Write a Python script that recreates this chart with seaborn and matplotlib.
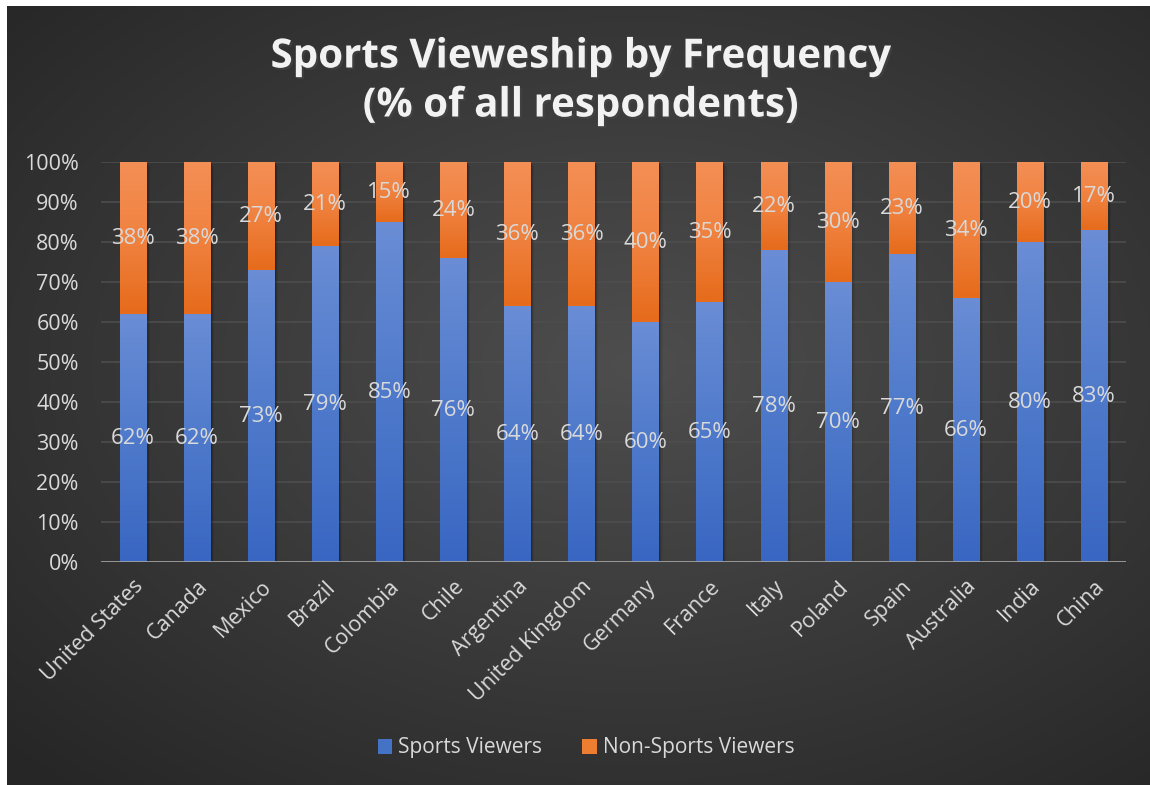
import numpy as np
import pandas as pd
import matplotlib
matplotlib.use("Agg")
import matplotlib.pyplot as plt
import seaborn as sns
from matplotlib.patches import Patch
from matplotlib.colors import LinearSegmentedColormap, to_rgb
import matplotlib.patheffects as pe

countries = ["United States", "Canada", "Mexico", "Brazil", "Colombia", "Chile",
             "Argentina", "United Kingdom", "Germany", "France", "Italy", "Poland",
             "Spain", "Australia", "India", "China"]
sports_viewers = [62, 62, 73, 79, 85, 76, 64, 64, 60, 65, 78, 70, 77, 66, 80, 83]
non_sports_viewers = [38, 38, 27, 21, 15, 24, 36, 36, 40, 35, 22, 30, 23, 34, 20, 17]
y_ticks = [0, 10, 20, 30, 40, 50, 60, 70, 80, 90, 100]
series_names = ["Sports Viewers", "Non-Sports Viewers"]

df = pd.DataFrame({
    "country": countries,
    "sports": sports_viewers,
    "non_sports": non_sports_viewers,
})
df["total"] = df["sports"] + df["non_sports"]

sns.set_theme(style="dark")
plt.rcParams["font.family"] = ["Open Sans", "DejaVu Sans"]

W, H = 1150, 785
fig = plt.figure(figsize=(W / 100, H / 100), dpi=100, facecolor="white")

# background with radial gradient (extends past right/bottom edges, clipped)
bg = fig.add_axes([7 / W, -0.02, 1.05 - 7 / W, 1.02 - 6 / H])
bg.set_axis_off()
yy, xx = np.mgrid[0:300, 0:400]
cx, cy = 400 * 0.52, 300 * 0.45
d = np.sqrt(((xx - cx) / 400) ** 2 + ((yy - cy) / 300) ** 2) / 0.72
d = np.clip(d, 0, 1)
c_in = np.array(to_rgb("#4e4e4e"))
c_out = np.array(to_rgb("#262626"))
img = c_in[None, None, :] * (1 - d[..., None]) + c_out[None, None, :] * d[..., None]
bg.imshow(img, aspect="auto", extent=(0, 1, 0, 1), origin="upper")
bg.set_xlim(0, 1)
bg.set_ylim(0, 1)

ax = fig.add_axes([101 / W, 1 - 562 / H, 1025 / W, 400 / H])
ax.patch.set_alpha(0)

orange = "#ED7D31"
blue = "#4472C4"
sns.barplot(data=df, x="country", y="total", color=orange, width=0.41,
            saturation=1, ax=ax, zorder=2, edgecolor="none", linewidth=0)
sns.barplot(data=df, x="country", y="sports", color=blue, width=0.41,
            saturation=1, ax=ax, zorder=3, edgecolor="none", linewidth=0)

n = len(countries)
orange_patches = ax.patches[:n]
blue_patches = ax.patches[n:]

grad_o = LinearSegmentedColormap.from_list("o", ["#e66b1b", "#f08240", "#f48f55"])
grad_b = LinearSegmentedColormap.from_list("b", ["#3966c2", "#4f7acb", "#6a8dd5"])
gvals = np.linspace(0, 1, 256).reshape(-1, 1)

for po, pb in zip(orange_patches, blue_patches):
    x0, w = pb.get_x(), pb.get_width()
    hb = pb.get_height()
    ho = po.get_height()
    # soft shadow
    for k, a in enumerate([0.18, 0.12, 0.07]):
        dx = 0.02 + k * 0.02
        ax.bar(x0 + w / 2 + dx, ho, width=w, bottom=-0.3 - k * 0.3,
               color="black", alpha=a, zorder=1.5, linewidth=0)
    ax.imshow(gvals, cmap=grad_b, aspect="auto", origin="lower",
              extent=(x0, x0 + w, 0, hb), zorder=3.5, interpolation="bilinear")
    ax.imshow(gvals, cmap=grad_o, aspect="auto", origin="lower",
              extent=(x0, x0 + w, hb, ho), zorder=3.5, interpolation="bilinear")
    ax.text(x0 + w / 2, hb / 2, f"{int(hb)}%", ha="center", va="center",
            color="#d9d9d9", fontsize=16, zorder=5)
    ax.text(x0 + w / 2, (hb + ho) / 2, f"{int(ho - hb)}%", ha="center", va="center",
            color="#d9d9d9", fontsize=16, zorder=5)

ax.set_xlim(-0.5, n - 0.5)
ax.set_ylim(0, 100)
ax.set_yticks(y_ticks)
ax.set_yticklabels([f"{t}%" for t in y_ticks])
ax.grid(False)
for t in y_ticks[1:]:
    ax.axhline(t, color="#4d4d4d", linewidth=1.2, zorder=1)
ax.axhline(0, color="#a0a0a0", linewidth=2, zorder=4)
for s in ax.spines.values():
    s.set_visible(False)
ax.set_xlabel("")
ax.set_ylabel("")
ax.tick_params(axis="y", colors="#d9d9d9", labelsize=15.5, length=0, pad=16)
ax.tick_params(axis="x", colors="#d9d9d9", labelsize=15.5, length=0, pad=10)
ax.set_xticks(range(n))
ax.set_xticklabels(countries, rotation=45, ha="right", rotation_mode="anchor")

fig.text(580 / W, 1 - 57 / H, "Sports Vieweship by Frequency", ha="center", va="center",
         fontsize=29, fontweight="bold", color="#f2f2f2",
         path_effects=[pe.withSimplePatchShadow(offset=(1.5, -1.5), alpha=0.5)])
fig.text(580 / W, 1 - 106 / H, "(% of all respondents)", ha="center", va="center",
         fontsize=29, fontweight="bold", color="#f2f2f2",
         path_effects=[pe.withSimplePatchShadow(offset=(1.5, -1.5), alpha=0.5)])

handles = [Patch(facecolor=blue, edgecolor="none"), Patch(facecolor=orange, edgecolor="none")]
leg = fig.legend(handles, series_names, loc="center", bbox_to_anchor=(586 / W, 1 - 748 / H),
                 ncol=2, frameon=False, fontsize=15, handlelength=0.7, handleheight=0.7,
                 handletextpad=0.3, columnspacing=1.9)
for t in leg.get_texts():
    t.set_color("#d9d9d9")

fig.savefig("out.png", dpi=100, facecolor="white")
